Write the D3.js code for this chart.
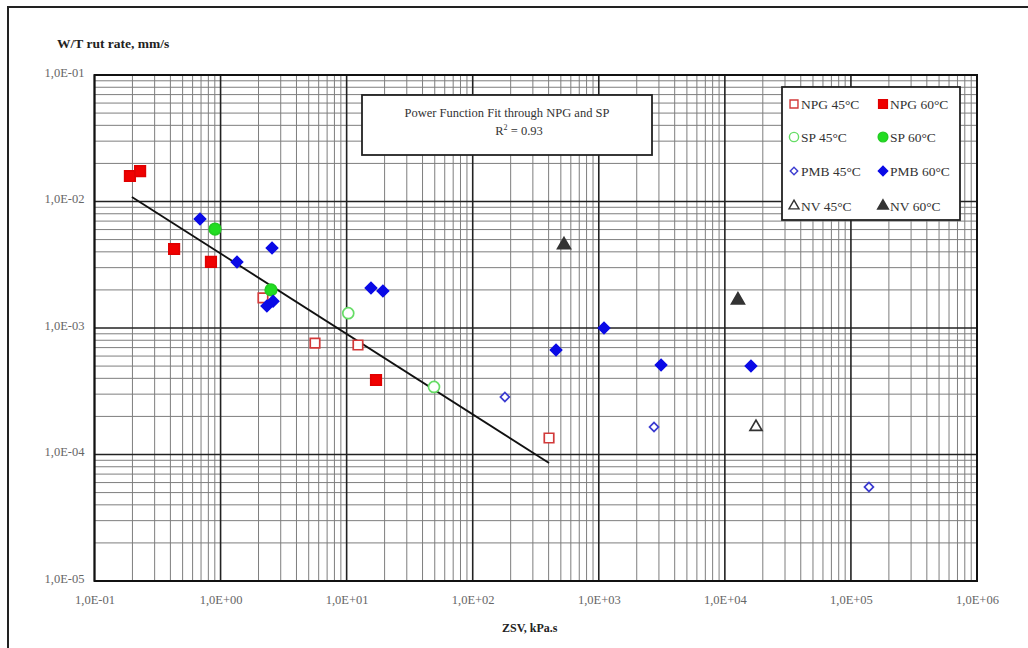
<!DOCTYPE html>
<html>
<head>
<meta charset="utf-8">
<script src="https://cdn.jsdelivr.net/npm/d3@7"></script>
<style>
  html, body { margin: 0; padding: 0; background: #fff; }
  svg { display: block; }
  text { font-family: "Liberation Serif", "Times New Roman", serif; }
</style>
</head>
<body>
<svg id="chart" width="1028" height="648"></svg>
<script>
// ZSV (kPa.s) vs wheel-tracking rut rate (mm/s), by binder type and test temperature
const npg45X = [2.17, 5.61, 12.3, 403];
const npg45Y = [0.00173, 0.00076, 0.000734, 0.000135];
const npg60X = [0.191, 0.230, 0.428, 0.839, 17.1];
const npg60Y = [0.0159, 0.0174, 0.00421, 0.00333, 0.000388];
const sp45X = [10.3, 49.3];
const sp45Y = [0.00131, 0.000342];
const sp60X = [0.904, 2.51];
const sp60Y = [0.00606, 0.0020];
const pmb45X = [180, 2742, 139000];
const pmb45Y = [0.000285, 0.000165, 0.0000553];
const pmb60X = [0.687, 1.35, 2.56, 2.33, 2.61, 15.6, 19.4, 458, 1100, 3119, 16110];
const pmb60Y = [0.00728, 0.00333, 0.00429, 0.00149, 0.00163, 0.00207, 0.00196, 0.00067, 0.0010, 0.00051, 0.000501];
const nv45X = [17660];
const nv45Y = [0.000165];
const nv60X = [530, 12700];
const nv60Y = [0.00453, 0.00166];

// Power function fit through NPG and SP (straight in log-log space)
const fitX = [0.198, 403];
const fitY = [0.01086, 0.0000857];

const xTickValues = [1e-1, 1e0, 1e1, 1e2, 1e3, 1e4, 1e5, 1e6];
const yTickValues = [1e-5, 1e-4, 1e-3, 1e-2, 1e-1];

const legendLabels = ["NPG 45°C", "NPG 60°C", "SP 45°C", "SP 60°C", "PMB 45°C", "PMB 60°C", "NV 45°C", "NV 60°C"];

const svg = d3.select("#chart");
const plot = { left: 94.5, right: 977, top: 75, bottom: 581 };

const x = d3.scaleLog().domain([1e-1, 1e6]).range([plot.left, plot.right]);
const y = d3.scaleLog().domain([1e-5, 1e-1]).range([plot.bottom, plot.top]);

// outer frame
svg.append("rect").attr("x", 8).attr("y", 7).attr("width", 1060).attr("height", 700)
  .attr("fill", "none").attr("stroke", "#222").attr("stroke-width", 2);

const isMajor = v => Math.abs(Math.log10(v) - Math.round(Math.log10(v))) < 1e-9;

// grid
const grid = svg.append("g");
grid.selectAll("line.vx").data(x.ticks().filter(v => !isMajor(v))).join("line")
  .attr("x1", d => x(d)).attr("x2", d => x(d)).attr("y1", plot.top).attr("y2", plot.bottom)
  .attr("stroke", "#7e7e7e").attr("stroke-width", 1);
grid.selectAll("line.hy").data(y.ticks().filter(v => !isMajor(v))).join("line")
  .attr("y1", d => y(d)).attr("y2", d => y(d)).attr("x1", plot.left).attr("x2", plot.right)
  .attr("stroke", "#7e7e7e").attr("stroke-width", 1);
grid.selectAll("line.mx").data(xTickValues).join("line")
  .attr("x1", d => x(d)).attr("x2", d => x(d)).attr("y1", plot.top).attr("y2", plot.bottom)
  .attr("stroke", "#222").attr("stroke-width", 1.6);
grid.selectAll("line.my").data(yTickValues).join("line")
  .attr("y1", d => y(d)).attr("y2", d => y(d)).attr("x1", plot.left).attr("x2", plot.right)
  .attr("stroke", "#222").attr("stroke-width", 1.6);

svg.append("rect").attr("x", plot.left).attr("y", plot.top)
  .attr("width", plot.right - plot.left).attr("height", plot.bottom - plot.top)
  .attr("fill", "none").attr("stroke", "#111").attr("stroke-width", 2);

// "1,0E-01" style labels
const sciFmt = v => {
  const e = Math.round(Math.log10(v));
  const s = e < 0 ? "-" : "+";
  return "1,0E" + s + String(Math.abs(e)).padStart(2, "0");
};

const xAxis = svg.append("g").attr("transform", `translate(0,${plot.bottom})`)
  .call(d3.axisBottom(x).tickValues(xTickValues).tickFormat(sciFmt).tickSize(0).tickPadding(14));
const yAxis = svg.append("g").attr("transform", `translate(${plot.left},0)`)
  .call(d3.axisLeft(y).tickValues(yTickValues).tickFormat(sciFmt).tickSize(0).tickPadding(10));
[xAxis, yAxis].forEach(g => {
  g.select(".domain").remove();
  g.selectAll("text").attr("font-family", '"Liberation Serif", serif')
    .attr("font-size", 12.5).attr("fill", "#666");
});
yAxis.selectAll("text").attr("dy", "0.1em");

// axis titles
svg.append("text").attr("x", 57).attr("y", 48).attr("font-size", 13.5).attr("font-weight", "bold")
  .attr("fill", "#222").text("W/T rut rate, mm/s");
svg.append("text").attr("x", 502).attr("y", 632).attr("font-size", 12).attr("font-weight", "bold")
  .attr("fill", "#222").text("ZSV, kPa.s");

// fit line
const fitPts = fitX.map((v, i) => [v, fitY[i]]);
svg.append("path").datum(fitPts)
  .attr("d", d3.line().x(d => x(d[0])).y(d => y(d[1])))
  .attr("fill", "none").attr("stroke", "#111").attr("stroke-width", 1.8);

// marker styles (diamonds are squares turned 45 degrees)
const styles = {
  npg45: { shape: d3.symbolSquare, size: 90, rot: 0, fill: "#fff", stroke: "#d23a3a" },
  npg60: { shape: d3.symbolSquare, size: 110, rot: 0, fill: "#f00000", stroke: "#e00000" },
  sp45:  { shape: d3.symbolCircle, size: 95, rot: 0, fill: "#fff", stroke: "#66dd66" },
  sp60:  { shape: d3.symbolCircle, size: 105, rot: 0, fill: "#22dd22", stroke: "#22cc22" },
  pmb45: { shape: d3.symbolSquare, size: 40, rot: 45, fill: "#fff", stroke: "#3b3bd0" },
  pmb60: { shape: d3.symbolSquare, size: 62, rot: 45, fill: "#0a0ae6", stroke: "#0a0ae6" },
  nv45:  { shape: d3.symbolTriangle, size: 62, rot: 0, fill: "#fff", stroke: "#333" },
  nv60:  { shape: d3.symbolTriangle, size: 72, rot: 0, fill: "#333", stroke: "#333" }
};

const seriesList = [
  ["npg45", npg45X, npg45Y], ["npg60", npg60X, npg60Y],
  ["sp45", sp45X, sp45Y], ["sp60", sp60X, sp60Y],
  ["pmb45", pmb45X, pmb45Y], ["pmb60", pmb60X, pmb60Y],
  ["nv45", nv45X, nv45Y], ["nv60", nv60X, nv60Y]
];

seriesList.forEach(([key, xs, ys]) => {
  const st = styles[key];
  svg.append("g").selectAll("path").data(xs.map((v, i) => [v, ys[i]])).join("path")
    .attr("transform", d => `translate(${x(d[0])},${y(d[1])}) rotate(${st.rot})`)
    .attr("d", d3.symbol().type(st.shape).size(st.size))
    .attr("fill", st.fill).attr("stroke", st.stroke).attr("stroke-width", 1.7);
});

// fit annotation box
svg.append("rect").attr("x", 362).attr("y", 95).attr("width", 290).attr("height", 60)
  .attr("fill", "#fff").attr("stroke", "#222").attr("stroke-width", 1.8);
svg.append("text").attr("x", 507).attr("y", 117).attr("text-anchor", "middle")
  .attr("font-size", 12.5).attr("fill", "#333").text("Power Function Fit through NPG and SP");
const r2 = svg.append("text").attr("x", 519).attr("y", 135).attr("text-anchor", "middle")
  .attr("font-size", 12.5).attr("fill", "#333");
r2.append("tspan").text("R");
r2.append("tspan").attr("dy", -5).attr("font-size", 8).text("2");
r2.append("tspan").attr("dy", 5).text(" = 0.93");

// legend
svg.append("rect").attr("x", 782).attr("y", 87).attr("width", 178).attr("height", 133)
  .attr("fill", "#fff").attr("stroke", "#222").attr("stroke-width", 1.8);
const legendKeys = ["npg45", "npg60", "sp45", "sp60", "pmb45", "pmb60", "nv45", "nv60"];
const legendRows = [104, 137, 171, 206];
const legendCols = [794, 883];
legendKeys.forEach((key, i) => {
  const st = styles[key];
  const cx = legendCols[i % 2], cy = legendRows[Math.floor(i / 2)];
  svg.append("path").attr("transform", `translate(${cx},${cy}) rotate(${st.rot})`)
    .attr("d", d3.symbol().type(st.shape).size(st.size * 0.7))
    .attr("fill", st.fill).attr("stroke", st.stroke).attr("stroke-width", 1.4);
  svg.append("text").attr("x", cx + 7).attr("y", cy + 4.5).attr("font-size", 13.5)
    .attr("fill", "#333").text(legendLabels[i]);
});
</script>
</body>
</html>
